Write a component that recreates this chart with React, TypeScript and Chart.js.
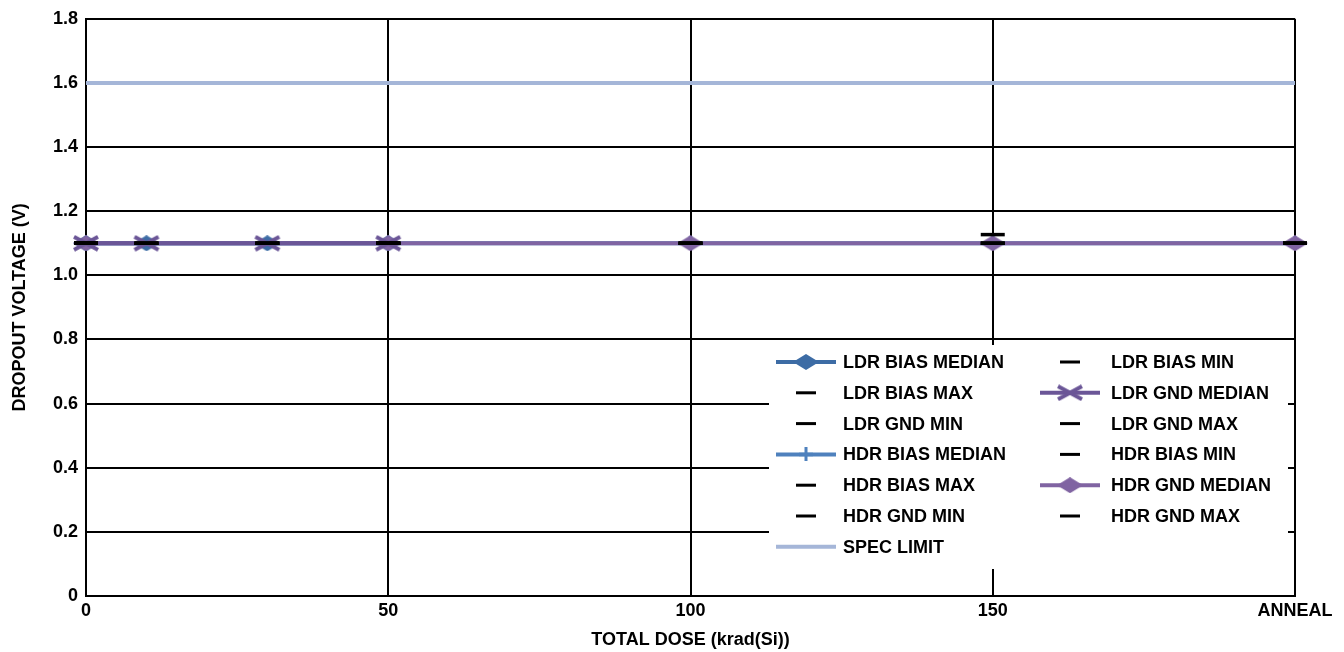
import React, { useEffect, useRef } from "react";
import { Chart, registerables } from "chart.js";

Chart.register(...registerables);

// ---- data ----
const ldrDose = [0, 10, 30, 50];
const hdrDose = [0, 50, 100, 150, 200];
const specDose = [0, 200];

const ldrBiasMedian = [1.1, 1.1, 1.1, 1.1];
const ldrBiasMin = [1.1, 1.1, 1.1, 1.1];
const ldrBiasMax = [1.1, 1.1, 1.1, 1.1];
const ldrGndMedian = [1.1, 1.1, 1.1, 1.1];
const ldrGndMin = [1.1, 1.1, 1.1, 1.1];
const ldrGndMax = [1.1, 1.1, 1.1, 1.1];
const hdrBiasMedian = [1.1, 1.1, 1.1, 1.1, 1.1];
const hdrBiasMin = [1.1, 1.1, 1.1, 1.1, 1.1];
const hdrBiasMax = [1.1, 1.1, 1.1, 1.127, 1.1];
const hdrGndMedian = [1.1, 1.1, 1.1, 1.1, 1.1];
const hdrGndMin = [1.1, 1.1, 1.1, 1.1, 1.1];
const hdrGndMax = [1.1, 1.1, 1.1, 1.1, 1.1];
const specLimit = [1.6, 1.6];

const xTickValues = [0, 50, 100, 150, 200];
const xTickLabels = ["0", "50", "100", "150", "ANNEAL"];

const FONT = "'Liberation Sans', Arial, sans-serif";

const C_LDR_BIAS = "#3d6ca5";
const C_HDR_BIAS = "#4f81bd";
const C_LDR_GND = "#6b5697";
const C_HDR_GND = "#8064a2";
const C_SPEC = "#a5b6d8";

function pts(xs: number[], ys: number[]) {
  return xs.map((x, i) => ({ x, y: ys[i] }));
}

function makeDiamond(color: string, w: number, h: number) {
  const c = document.createElement("canvas");
  c.width = w;
  c.height = h;
  const g = c.getContext("2d")!;
  g.fillStyle = color;
  g.beginPath();
  g.moveTo(w / 2, 0);
  g.lineTo(w, h / 2);
  g.lineTo(w / 2, h);
  g.lineTo(0, h / 2);
  g.closePath();
  g.fill();
  return c;
}

function makeX(color: string, w: number, h: number) {
  const c = document.createElement("canvas");
  c.width = w;
  c.height = h;
  const g = c.getContext("2d")!;
  g.strokeStyle = color;
  g.lineWidth = 4;
  g.lineCap = "butt";
  g.beginPath();
  g.moveTo(2, 2);
  g.lineTo(w - 2, h - 2);
  g.moveTo(2, h - 2);
  g.lineTo(w - 2, 2);
  g.stroke();
  return c;
}

function makePlus(color: string, w: number, h: number) {
  const c = document.createElement("canvas");
  c.width = w;
  c.height = h;
  const g = c.getContext("2d")!;
  g.fillStyle = color;
  g.fillRect(w / 2 - 1.5, 0, 3, h);
  g.fillRect(0, h / 2 - 1.5, w, 3);
  return c;
}

const legendPlugin = {
  id: "boxLegend",
  afterDraw(chart: any) {
    const ctx = chart.ctx;
    const ds = chart.data.datasets;
    ctx.save();
    ctx.fillStyle = "#ffffff";
    ctx.fillRect(769, 345, 519, 224);
    ctx.font = `bold 18px ${FONT}`;
    ctx.textBaseline = "middle";
    ctx.textAlign = "left";
    const colSample = [776, 1040];
    const colText = [843, 1111];
    ds.forEach((d: any, i: number) => {
      const col = i % 2;
      const row = Math.floor(i / 2);
      const y = 362 + row * 30.8;
      const x0 = colSample[col];
      const x1 = x0 + 60;
      const cx = (x0 + x1) / 2;
      if (d.showLine) {
        ctx.strokeStyle = d.borderColor;
        ctx.lineWidth = d.borderWidth;
        ctx.beginPath();
        ctx.moveTo(x0, y);
        ctx.lineTo(x1, y);
        ctx.stroke();
        if (d.pointStyle && typeof d.pointStyle !== "string") {
          const img = d.pointStyle;
          ctx.drawImage(img, cx - img.width / 2, y - img.height / 2);
        }
      } else {
        ctx.strokeStyle = "#000000";
        ctx.lineWidth = 3;
        ctx.beginPath();
        ctx.moveTo(cx - 10, y);
        ctx.lineTo(cx + 10, y);
        ctx.stroke();
      }
      ctx.fillStyle = "#000000";
      ctx.fillText(d.label, colText[col], y + 1);
    });
    ctx.restore();
  },
};

export default function App() {
  const ref = useRef<HTMLCanvasElement | null>(null);

  useEffect(() => {
    document.body.style.margin = "0";
    const diamondLdr = makeDiamond(C_LDR_BIAS, 26, 16);
    const diamondHdr = makeDiamond(C_HDR_GND, 26, 16);
    const xLdr = makeX(C_LDR_GND, 28, 17);
    const plusHdr = makePlus(C_HDR_BIAS, 14, 14);

    const median = (label: string, xs: number[], ys: number[], color: string, img: any, order: number) => ({
      label,
      data: pts(xs, ys),
      showLine: true,
      borderColor: color,
      backgroundColor: color,
      borderWidth: 4,
      pointStyle: img,
      pointRadius: 10,
      clip: false,
      order,
    });
    const dash = (label: string, xs: number[], ys: number[]) => ({
      label,
      data: pts(xs, ys),
      showLine: false,
      borderColor: "#000000",
      backgroundColor: "#000000",
      borderWidth: 3.5,
      pointStyle: "line",
      pointRadius: 12,
      clip: false,
      order: 1,
    });

    const datasets: any[] = [
      median("LDR BIAS MEDIAN", ldrDose, ldrBiasMedian, C_LDR_BIAS, diamondLdr, 6),
      dash("LDR BIAS MIN", ldrDose, ldrBiasMin),
      dash("LDR BIAS MAX", ldrDose, ldrBiasMax),
      median("LDR GND MEDIAN", ldrDose, ldrGndMedian, C_LDR_GND, xLdr, 3),
      dash("LDR GND MIN", ldrDose, ldrGndMin),
      dash("LDR GND MAX", ldrDose, ldrGndMax),
      median("HDR BIAS MEDIAN", hdrDose, hdrBiasMedian, C_HDR_BIAS, plusHdr, 7),
      dash("HDR BIAS MIN", hdrDose, hdrBiasMin),
      dash("HDR BIAS MAX", hdrDose, hdrBiasMax),
      median("HDR GND MEDIAN", hdrDose, hdrGndMedian, C_HDR_GND, diamondHdr, 4),
      dash("HDR GND MIN", hdrDose, hdrGndMin),
      dash("HDR GND MAX", hdrDose, hdrGndMax),
      {
        label: "SPEC LIMIT",
        data: pts(specDose, specLimit),
        showLine: true,
        borderColor: C_SPEC,
        backgroundColor: C_SPEC,
        borderWidth: 4,
        pointRadius: 0,
        pointStyle: "line",
        order: 10,
      },
    ];

    const chart = new Chart(ref.current!, {
      type: "scatter",
      data: { datasets },
      plugins: [legendPlugin],
      options: {
        responsive: false,
        animation: false,
        events: [],
        layout: { padding: { top: 18, right: 49, left: 0, bottom: 0 } },
        plugins: {
          legend: { display: false },
          tooltip: { enabled: false },
          title: { display: false },
        },
        scales: {
          x: {
            type: "linear",
            min: 0,
            max: 200,
            afterFit: (s: any) => {
              s.height = 56;
            },
            afterBuildTicks: (s: any) => {
              s.ticks = xTickValues.map((v) => ({ value: v }));
            },
            ticks: {
              autoSkip: false,
              maxRotation: 0,
              padding: 4,
              color: "#000000",
              font: { family: FONT, size: 18, weight: "bold" },
              callback: (v: any) => {
                const i = xTickValues.indexOf(Number(v));
                return i >= 0 ? xTickLabels[i] : "";
              },
            },
            grid: { color: "#000000", lineWidth: 2, drawTicks: false },
            border: { display: true, color: "#000000", width: 2 },
            title: {
              display: true,
              text: "TOTAL DOSE (krad(Si))",
              color: "#000000",
              font: { family: FONT, size: 18, weight: "bold" },
              padding: { top: 0, bottom: 1 },
            },
          },
          y: {
            type: "linear",
            min: 0,
            max: 1.8,
            afterFit: (s: any) => {
              s.width = 86;
            },
            ticks: {
              stepSize: 0.2,
              padding: 8,
              color: "#000000",
              font: { family: FONT, size: 18, weight: "bold" },
              callback: (v: any) => (Number(v) === 0 ? "0" : Number(v).toFixed(1)),
            },
            grid: { color: "#000000", lineWidth: 2, drawTicks: false },
            border: { display: true, color: "#000000", width: 2 },
            title: {
              display: true,
              text: "DROPOUT VOLTAGE (V)",
              color: "#000000",
              font: { family: FONT, size: 18, weight: "bold" },
              padding: { top: 9, bottom: 0 },
            },
          },
        },
      } as any,
    });
    return () => chart.destroy();
  }, []);

  return (
    <div style={{ width: 1344, height: 652 }}>
      <canvas ref={ref} width={1344} height={652} />
    </div>
  );
}
